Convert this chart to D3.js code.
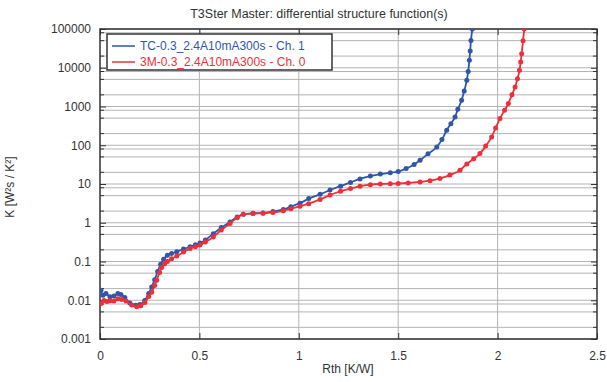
<!DOCTYPE html>
<html>
<head>
<meta charset="utf-8">
<script src="https://cdn.jsdelivr.net/npm/d3@7"></script>
<style>
  body { margin: 0; background: #fff; }
  svg { font-family: "Liberation Sans", Arial, sans-serif; }
</style>
</head>
<body>
<svg id="chart" width="607" height="382"></svg>
<script>
// data (Rth [K/W], K [W²s/K²])
const blueRth = [0.005,0.015,0.03,0.05,0.07,0.09,0.105,0.125,0.15,0.18,0.2,0.225,0.245,0.26,0.275,0.29,0.305,0.32,0.339,0.36,0.386,0.42,0.453,0.48,0.503,0.53,0.57,0.61,0.654,0.69,0.721,0.77,0.82,0.87,0.922,0.96,1.006,1.05,1.107,1.157,1.21,1.26,1.308,1.36,1.41,1.46,1.5,1.54,1.58,1.61,1.65,1.694,1.72,1.744,1.765,1.786,1.8,1.819,1.832,1.845,1.852,1.858,1.862,1.866,1.873];
const blueK = [0.018,0.0135,0.015,0.0123,0.0128,0.015,0.014,0.0118,0.0085,0.0074,0.0078,0.0099,0.015,0.022,0.034,0.055,0.085,0.115,0.145,0.16,0.178,0.21,0.24,0.27,0.3,0.36,0.52,0.75,1.05,1.4,1.65,1.75,1.78,1.95,2.2,2.6,3.2,4.2,5.4,7.0,8.8,11,13.5,16,18,19.5,21,25,32,41,60,90,140,244,360,537,850,1450,2500,4730,8000,15500,27000,50400,100000];

const redRth = [0.005,0.02,0.035,0.05,0.07,0.09,0.109,0.13,0.16,0.185,0.205,0.226,0.245,0.26,0.275,0.285,0.3,0.31,0.325,0.339,0.36,0.386,0.42,0.453,0.48,0.503,0.53,0.57,0.61,0.654,0.69,0.721,0.77,0.82,0.87,0.922,0.96,1.006,1.05,1.107,1.157,1.21,1.26,1.308,1.36,1.41,1.46,1.5,1.55,1.61,1.66,1.71,1.76,1.811,1.845,1.88,1.911,1.94,1.97,1.99,2.012,2.035,2.054,2.072,2.088,2.1,2.11,2.116,2.121,2.128,2.134];
const redK = [0.0083,0.0098,0.0093,0.0097,0.0096,0.011,0.0105,0.0095,0.0075,0.0068,0.0072,0.0088,0.0125,0.016,0.024,0.033,0.052,0.07,0.088,0.1,0.118,0.138,0.175,0.218,0.24,0.265,0.32,0.43,0.65,0.96,1.35,1.66,1.73,1.76,1.85,2.03,2.3,2.68,3.1,4.0,5.2,6.5,7.6,8.8,9.6,10.0,10.2,10.3,10.6,11.3,12.2,13.9,17,22.7,33,45,61,95,164,280,488,800,1190,2000,3190,5200,8570,14000,23000,50000,100000];

const seriesNames = ["TC-0.3_2.4A10mA300s - Ch. 1", "3M-0.3_2.4A10mA300s - Ch. 0"];
const seriesColors = ["#2f56a8", "#ee2f3a"];
const xTicks = [0, 0.5, 1, 1.5, 2, 2.5];
const yTicks = [0.001, 0.01, 0.1, 1, 10, 100, 1000, 10000, 100000];
const yMinorMult = [2, 5, 8];

const svg = d3.select("#chart"),
      margin = {top: 29, right: 10, bottom: 43, left: 100},
      width = 607 - margin.left - margin.right,
      height = 382 - margin.top - margin.bottom;

const chart = svg.append("g")
                 .attr("transform", `translate(${margin.left},${margin.top})`);

const x = d3.scaleLinear().domain([0, 2.5]).range([0, width]);
const y = d3.scaleLog().domain([0.001, 100000]).range([height, 0]);

// grid
const minorVals = [];
yTicks.slice(0, -1).forEach(d => yMinorMult.forEach(m => minorVals.push(d * m)));

chart.append("g").selectAll("line")
     .data(yTicks.concat(minorVals))
     .enter().append("line")
     .attr("x1", 0).attr("x2", width)
     .attr("y1", d => y(d)).attr("y2", d => y(d))
     .attr("stroke", "#b4b4b4").attr("stroke-width", 1);

chart.append("g").selectAll("line")
     .data(xTicks.slice(1, -1))
     .enter().append("line")
     .attr("x1", d => x(d)).attr("x2", d => x(d))
     .attr("y1", 0).attr("y2", height)
     .attr("stroke", "#b4b4b4").attr("stroke-width", 1);

// axes
const yAxis = chart.append("g")
     .call(d3.axisLeft(y).tickValues(yTicks).tickFormat(d => String(d)).tickSize(-6).tickPadding(9));
const yAxisR = chart.append("g")
     .attr("transform", `translate(${width},0)`)
     .call(d3.axisRight(y).tickValues(yTicks).tickFormat("").tickSize(-6));
[yAxis, yAxisR].forEach(a => a.select(".domain").remove());

// minor ticks left/right
[[0, 4], [width, -4]].forEach(([x0, len]) => {
    chart.append("g").selectAll("line")
         .data(minorVals)
         .enter().append("line")
         .attr("x1", x0).attr("x2", x0 + len)
         .attr("y1", d => y(d)).attr("y2", d => y(d))
         .attr("stroke", "#333");
});

const xAxis = chart.append("g")
     .attr("transform", `translate(0,${height})`)
     .call(d3.axisBottom(x).tickValues(xTicks).tickFormat(d => String(d)).tickSize(-6).tickPadding(12));
const xAxisT = chart.append("g")
     .call(d3.axisTop(x).tickValues(xTicks).tickFormat("").tickSize(-6));
[xAxis, xAxisT].forEach(a => a.select(".domain").remove());

svg.selectAll(".tick line").attr("stroke", "#333");
svg.selectAll(".tick text").attr("fill", "#333").style("font-size", "12px")
   .style("font-family", "'Liberation Sans', Arial, sans-serif");

// frame
chart.append("rect")
     .attr("width", width).attr("height", height)
     .attr("fill", "none").attr("stroke", "#333").attr("stroke-width", 1.5);

// series
const series = [
    {rth: blueRth, k: blueK, color: seriesColors[0]},
    {rth: redRth, k: redK, color: seriesColors[1]}
];

const plot = chart.append("g");
plot.append("clipPath").attr("id", "clip")
    .append("rect").attr("width", width).attr("height", height);
const inner = plot.append("g").attr("clip-path", "url(#clip)");

const line = d3.line()
    .x(d => x(d[0]))
    .y(d => y(d[1]))
    .curve(d3.curveMonotoneX);

series.forEach(s => {
    const pts = s.rth.map((r, i) => [r, s.k[i]]);
    inner.append("path")
         .datum(pts)
         .attr("d", line)
         .attr("fill", "none")
         .attr("stroke", s.color)
         .attr("stroke-width", 1.8);
    inner.selectAll(null)
         .data(pts)
         .enter().append("circle")
         .attr("cx", d => x(d[0]))
         .attr("cy", d => y(d[1]))
         .attr("r", 2.5)
         .attr("fill", s.color);
});

// legend
const legend = chart.append("g").attr("transform", "translate(7,5)");
legend.append("rect")
      .attr("width", 225).attr("height", 36)
      .attr("fill", "#fff").attr("stroke", "#333").attr("stroke-width", 1.5);
seriesNames.forEach((name, i) => {
    const yy = 12 + i * 16;
    legend.append("line")
          .attr("x1", 5).attr("x2", 28)
          .attr("y1", yy).attr("y2", yy)
          .attr("stroke", seriesColors[i]).attr("stroke-width", 1.5);
    legend.append("text")
          .attr("x", 33).attr("y", yy + 4)
          .attr("fill", seriesColors[i])
          .style("font-size", "12px")
          .text(name);
});

// titles
svg.append("text")
   .attr("x", 319).attr("y", 18)
   .attr("text-anchor", "middle")
   .attr("fill", "#333")
   .style("font-size", "12.5px")
   .text("T3Ster Master: differential structure function(s)");

svg.append("text")
   .attr("x", 348).attr("y", 373)
   .attr("text-anchor", "middle")
   .attr("fill", "#333")
   .style("font-size", "12px")
   .text("Rth  [K/W]");

svg.append("text")
   .attr("transform", "translate(14,187) rotate(-90)")
   .attr("text-anchor", "middle")
   .attr("fill", "#333")
   .style("font-size", "12px")
   .text("K  [W²s / K²]");
</script>
</body>
</html>
